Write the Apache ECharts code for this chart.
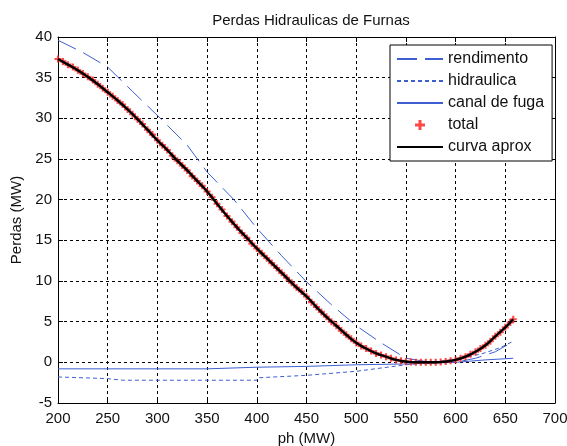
<!DOCTYPE html>
<html>
<head>
<meta charset="utf-8">
<script src="https://cdn.jsdelivr.net/npm/echarts@6/dist/echarts.min.js"></script>
<style>
  html, body { margin: 0; padding: 0; background: #fff; }
  #chart { width: 567px; height: 446px; }
</style>
</head>
<body>
<div id="chart"></div>
<script>
// valores
var rendX = [200, 225, 250, 275, 303, 330, 350, 377, 400, 425, 450, 475, 500, 525, 550, 575, 600, 620, 640, 650, 658];
var rendY = [39.6, 38.1, 36.3, 33.3, 30.0, 26.7, 23.4, 20.0, 16.5, 13.1, 9.9, 7.1, 4.5, 2.4, 0.5, 0.0, 0.0, 0.5, 1.3, 2.0, 2.4];

var hidrX = [200, 250, 265, 300, 350, 400, 401, 450, 500, 550, 575, 600, 625, 645, 658];
var hidrY = [-1.8, -2.0, -2.2, -2.2, -2.2, -2.2, -1.9, -1.6, -1.1, -0.3, 0.0, 0.4, 1.0, 1.8, 2.6];

var canalX = [200, 350, 400, 450, 500, 550, 600, 630, 658];
var canalY = [-0.8, -0.8, -0.6, -0.5, -0.3, -0.2, 0.0, 0.3, 0.5];

var totalX = [200, 205, 210, 215, 220, 225, 230, 235, 240, 245, 250, 255, 260, 265, 270, 275, 280, 285, 290, 295,
  300, 305, 310, 315, 320, 325, 330, 335, 340, 345, 350, 355, 360, 365, 370, 375, 380, 385, 390, 395,
  400, 405, 410, 415, 420, 425, 430, 435, 440, 445, 450, 455, 460, 465, 470, 475, 480, 485, 490, 495,
  500, 505, 510, 515, 520, 525, 530, 535, 540, 545, 550, 555, 560, 565, 570, 575, 580, 585, 590, 595,
  600, 605, 610, 615, 620, 625, 630, 635, 640, 645, 650, 655, 658];
var totalY = [37.3, 37.0, 36.6, 36.3, 35.9, 35.5, 35.1, 34.7, 34.2, 33.7, 33.2, 32.7, 32.2, 31.7, 31.1, 30.5, 29.9, 29.3, 28.6, 28.0,
  27.3, 26.7, 26.1, 25.4, 24.8, 24.2, 23.6, 22.9, 22.3, 21.7, 21.0, 20.3, 19.5, 18.8, 18.0, 17.3, 16.6, 15.9, 15.3, 14.6,
  14.0, 13.4, 12.8, 12.2, 11.6, 11.0, 10.4, 9.8, 9.2, 8.7, 8.1, 7.4, 6.8, 6.2, 5.6, 5.0, 4.5, 3.9, 3.4, 2.9,
  2.4, 2.0, 1.7, 1.4, 1.1, 0.9, 0.7, 0.5, 0.3, 0.2, 0.1, 0.05, 0.0, 0.0, 0.0, 0.0, 0.0, 0.05, 0.1, 0.2,
  0.3, 0.5, 0.7, 1.0, 1.3, 1.7, 2.1, 2.6, 3.2, 3.7, 4.3, 4.9, 5.3];

var curvaX = [200, 210, 220, 230, 240, 250, 260, 270, 280, 290, 300, 310, 320, 330, 340, 350, 360, 370, 380, 390,
  400, 410, 420, 430, 440, 450, 460, 470, 480, 490, 500, 510, 520, 530, 540, 550, 560, 570, 580, 590,
  600, 610, 620, 630, 640, 650, 658];
var curvaY = [37.3, 36.6, 35.9, 35.1, 34.2, 33.2, 32.2, 31.1, 29.9, 28.6, 27.3, 26.1, 24.8, 23.6, 22.3, 21.0, 19.5, 18.0, 16.6, 15.3,
  14.0, 12.8, 11.6, 10.4, 9.2, 8.1, 6.8, 5.6, 4.5, 3.4, 2.4, 1.7, 1.1, 0.7, 0.3, 0.1, 0.0, 0.0, 0.0, 0.1,
  0.3, 0.7, 1.3, 2.1, 3.2, 4.3, 5.3];

function pares(xs, ys) {
  return xs.map(function (x, i) { return [x, ys[i]]; });
}

var azul = '#3d5fd0';
var fonte = 'Liberation Sans';
var corTexto = '#111';
var gradeTracejada = { show: true, lineStyle: { color: '#000', type: [3, 3], width: 1 } };
var semSimbolo = { opacity: 0 };

var myChart = echarts.init(document.getElementById('chart'));
myChart.setOption({
  animation: false,
  backgroundColor: '#fff',
  textStyle: { fontFamily: fonte },
  title: {
    text: 'Perdas Hidraulicas de Furnas',
    left: 306,
    top: 8,
    textAlign: 'center',
    textStyle: { fontSize: 15, fontWeight: 'normal', color: corTexto, fontFamily: fonte }
  },
  grid: { left: 58, right: 12, top: 37, bottom: 43, outerBoundsMode: 'none' },
  legend: {
    orient: 'vertical',
    left: 390,
    top: 45,
    padding: [5, 8, 5, 6],
    itemWidth: 46,
    itemHeight: 10,
    itemGap: 4,
    backgroundColor: '#fff',
    borderColor: '#000',
    borderWidth: 1,
    textStyle: { fontSize: 16, lineHeight: 18, color: corTexto, fontFamily: fonte, padding: [0, 0, 0, 0] },
    data: [
      { name: 'rendimento', itemStyle: semSimbolo },
      { name: 'hidraulica', itemStyle: semSimbolo },
      { name: 'canal de fuga', itemStyle: semSimbolo },
      { name: 'total' },
      { name: 'curva aprox', itemStyle: semSimbolo }
    ]
  },
  xAxis: [{
    type: 'value',
    min: 200, max: 700, interval: 50,
    name: 'ph (MW)',
    nameLocation: 'middle',
    nameGap: 28,
    nameTextStyle: { fontSize: 15, color: corTexto },
    axisLine: { onZero: false, lineStyle: { color: '#000' } },
    axisTick: { inside: true, length: 5, lineStyle: { color: '#000' } },
    axisLabel: { fontSize: 15, color: corTexto, margin: 8 },
    splitLine: gradeTracejada
  }, {
    type: 'value', position: 'top',
    min: 200, max: 700, interval: 50,
    axisLine: { show: true, onZero: false, lineStyle: { color: '#000' } },
    axisTick: { show: true, inside: true, length: 5, lineStyle: { color: '#000' } },
    axisLabel: { show: false },
    splitLine: { show: false }
  }],
  yAxis: [{
    type: 'value',
    min: -5, max: 40, interval: 5,
    name: 'Perdas (MW)',
    nameLocation: 'middle',
    nameGap: 33,
    nameTextStyle: { fontSize: 15, color: corTexto },
    axisLine: { show: true, onZero: false, lineStyle: { color: '#000' } },
    axisTick: { show: true, inside: true, length: 5, lineStyle: { color: '#000' } },
    axisLabel: { fontSize: 15, color: corTexto, margin: 6 },
    splitLine: gradeTracejada
  }, {
    type: 'value', position: 'right',
    min: -5, max: 40, interval: 5,
    axisLine: { show: true, onZero: false, lineStyle: { color: '#000' } },
    axisTick: { show: true, inside: true, length: 5, lineStyle: { color: '#000' } },
    axisLabel: { show: false },
    splitLine: { show: false }
  }],
  series: [
    {
      name: 'rendimento', type: 'line', symbol: 'none',
      lineStyle: { color: azul, width: 1, type: [20, 8] }, itemStyle: { color: azul },
      data: pares(rendX, rendY), z: 3
    },
    {
      name: 'hidraulica', type: 'line', symbol: 'none',
      lineStyle: { color: azul, width: 1, type: [4, 3] }, itemStyle: { color: azul },
      data: pares(hidrX, hidrY), z: 3
    },
    {
      name: 'canal de fuga', type: 'line', symbol: 'none',
      lineStyle: { color: azul, width: 1 }, itemStyle: { color: azul },
      data: pares(canalX, canalY), z: 3
    },
    {
      name: 'total', type: 'scatter',
      symbol: 'path://M3.5,0H6.5V3.5H10V6.5H6.5V10H3.5V6.5H0V3.5H3.5Z', symbolSize: 7,
      itemStyle: { color: '#ff1a1a' },
      data: pares(totalX, totalY), z: 4
    },
    {
      name: 'curva aprox', type: 'line', symbol: 'none', smooth: true,
      lineStyle: { color: '#000', width: 2.5 }, itemStyle: { color: '#000' },
      data: pares(curvaX, curvaY), z: 5
    }
  ]
});
</script>
</body>
</html>
